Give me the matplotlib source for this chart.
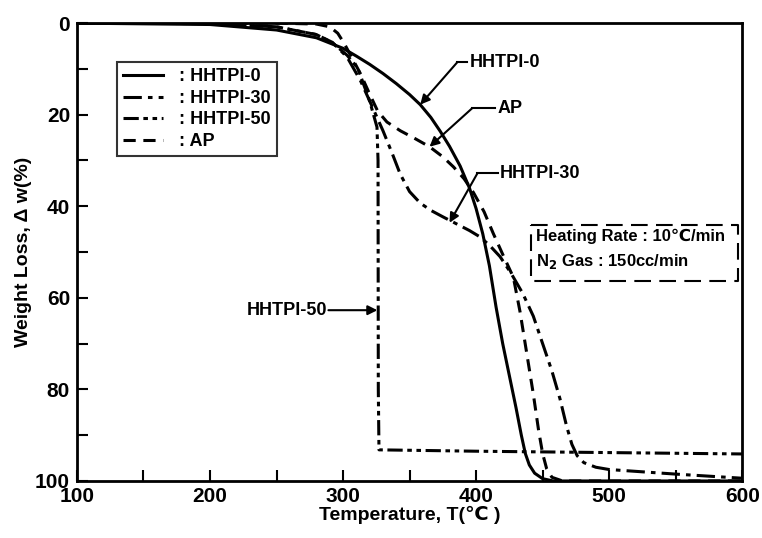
import numpy as np
import matplotlib.pyplot as plt
from matplotlib.ticker import MultipleLocator

plt.rcParams['font.family'] = ['Liberation Sans', 'DejaVu Sans']
plt.rcParams['font.weight'] = 'bold'

# TGA curves: temperature (C) vs weight loss (%)
t_hh0 = [100, 200, 250, 280, 300, 310, 320, 330, 340, 350, 358, 366, 373, 380, 388, 395, 400, 405,
         410, 415, 420, 425, 430, 434, 437, 440, 444, 450, 458, 600]
w_hh0 = [0, 0.3, 1.5, 3.2, 5.5, 7.2, 9.0, 11.0, 13.2, 15.6, 17.8, 20.6, 23.6, 26.9, 31.2, 36, 40.5, 46,
         53, 62, 70, 77, 84, 90, 94, 96.5, 98.3, 99.5, 100, 100]

t_hh30 = [100, 200, 250, 280, 292, 303, 313, 322, 330, 337, 343, 350, 358, 366, 375, 385, 395, 403,
          410, 418, 426, 435, 443, 450, 457, 463, 468, 472, 476, 481, 490, 500, 550, 600]
w_hh30 = [0, 0.1, 0.8, 2.5, 4.2, 7.4, 12.5, 18.3, 23.5, 28.5, 33, 36.8, 39.3, 40.9, 42.3, 43.8, 45.3, 46.7,
          48.5, 51, 54.5, 59, 64, 70, 76, 82, 88, 92, 94.5, 96, 97, 97.5, 98.5, 99.4]

t_hh50 = [100, 200, 250, 280, 292, 303, 311, 320, 325.5, 326.3, 326.5, 327, 400, 500, 600]
w_hh50 = [0, 0.1, 0.8, 2.5, 4.3, 7, 9.8, 17, 22.7, 30, 80, 93.2, 93.5, 93.8, 94.1]

t_ap = [100, 250, 280, 290, 296, 301, 306, 313, 320, 326, 333, 343, 354, 365, 375, 383, 391, 398,
        406, 413, 420, 428, 433, 438, 443, 447, 450, 453, 457, 465, 600]
w_ap = [0, 0, 0.2, 0.8, 2.2, 4.5, 7.2, 11, 15.5, 19.2, 21.6, 23.5, 25.2, 27, 29.2, 31.4, 34, 37,
        41.2, 46, 50.5, 55.5, 63, 72, 81, 89, 94, 97.3, 99.2, 100, 100]

labels = ['HHTPI-0', 'HHTPI-30', 'HHTPI-50', 'AP']

fig = plt.figure(figsize=(7.62, 5.38), dpi=100)
ax = fig.add_axes([0.101, 0.106, 0.873, 0.851])

ax.plot(t_hh0, w_hh0, color='black', lw=2.2, ls='-', label=': ' + labels[0])
ax.plot(t_hh30, w_hh30, color='black', lw=2.2, ls=(0, (6, 2, 1.5, 2)), label=': ' + labels[1])
ax.plot(t_hh50, w_hh50, color='black', lw=2.2, ls=(0, (5, 1.5, 1.5, 1.5, 1.5, 1.5)), label=': ' + labels[2])
ax.plot(t_ap, w_ap, color='black', lw=2.2, ls=(0, (4, 2.5)), label=': ' + labels[3])

ax.set_xlim(100, 600)
ax.set_ylim(100, 0)
ax.xaxis.set_major_locator(MultipleLocator(100))
ax.xaxis.set_minor_locator(MultipleLocator(50))
ax.yaxis.set_major_locator(MultipleLocator(20))
ax.yaxis.set_minor_locator(MultipleLocator(10))
ax.tick_params(which='both', direction='in', width=1.5, top=False, right=False,
               labelsize=15, length=8)
ax.tick_params(axis='x', pad=4)
ax.tick_params(axis='y', pad=5)
for s in ax.spines.values():
    s.set_linewidth(2)

ax.set_xlabel('Temperature, T(\u2103 )', fontsize=14, fontweight='bold', labelpad=0)
ax.set_ylabel('Weight Loss, \u0394 w(%)', fontsize=14, fontweight='bold', labelpad=2)

leg = ax.legend(loc='upper left', bbox_to_anchor=(0.06, 0.915), borderaxespad=0,
                frameon=True, fancybox=False, edgecolor='black', fontsize=13,
                handlelength=2.2, handletextpad=0.9, labelspacing=0.25, borderpad=0.35)
leg.get_frame().set_linewidth(1.5)

# leader lines: (label, text pos, elbow, arrow tip)
notes = [
    ('HHTPI-0', (395, 8.5), (386, 8.5), (358, 17.8)),
    ('AP', (416, 18.6), (397, 18.6), (365, 27)),
    ('HHTPI-30', (418, 32.8), (401, 32.8), (380, 43.6)),
]
for text, (tx, ty), (ex, ey), (px, py) in notes:
    ax.plot([ex, tx - 1.5], [ey, ty], color='black', lw=1.5)
    ax.annotate('', xy=(px, py), xytext=(ex, ey),
                arrowprops=dict(arrowstyle='-|>', color='black', lw=1.5,
                                mutation_scale=14, shrinkA=0, shrinkB=0))
    ax.text(tx, ty, text, fontsize=13, fontweight='bold', va='center', ha='left')

ax.text(288, 62.7, 'HHTPI-50', fontsize=13, fontweight='bold', va='center', ha='right')
ax.annotate('', xy=(325.8, 62.7), xytext=(289, 62.7),
            arrowprops=dict(arrowstyle='-|>', color='black', lw=1.5,
                            mutation_scale=14, shrinkA=0, shrinkB=0))

# measurement conditions box
ax.plot([441, 597, 597, 441, 441], [44, 44, 56.3, 56.3, 44], color='black', lw=1.5,
        ls=(0, (8, 4)))
ax.text(445, 46.5, 'Heating Rate : 10\u2103/min', fontsize=12, fontweight='bold',
        va='center', ha='left')
ax.text(445, 52.0, 'N$_\\mathbf{2}$ Gas : 150cc/min', fontsize=12, fontweight='bold',
        va='center', ha='left')

fig.savefig('out.png', dpi=100)
